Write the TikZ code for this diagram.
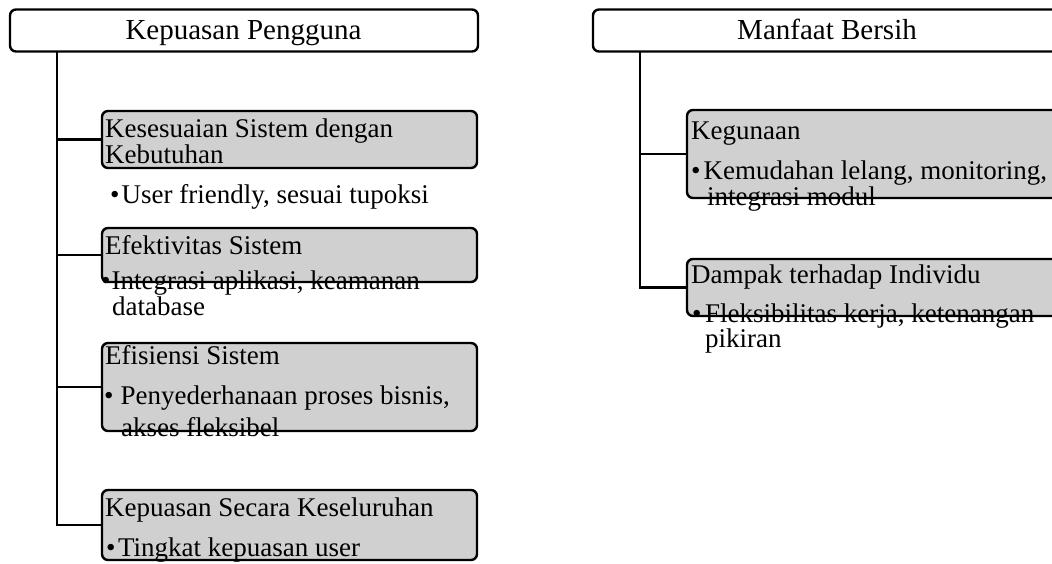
\documentclass[tikz,border=0pt]{standalone}
\usepackage{fontspec}
\setmainfont{Liberation Serif}
\definecolor{boxgray}{RGB}{208,208,208}
\begin{document}
\begin{tikzpicture}[x=1pt,y=-1pt,
  hdr/.style={draw, line width=2.4pt, rounded corners=6pt, fill=white,
    minimum width=468, minimum height=42, anchor=north west, inner sep=0, outer sep=0},
  item/.style={draw, line width=2.4pt, rounded corners=6pt, fill=boxgray,
    minimum width=375, anchor=north west, inner sep=0, outer sep=0},
  conn/.style={line width=2.4pt},
  htxt/.style={font=\fontsize{29}{31}\selectfont, anchor=base, inner sep=0},
  ttxt/.style={font=\fontsize{27}{29}\selectfont, anchor=base west, inner sep=0},
]
\useasboundingbox (0,0) rectangle (1052,563);
\clip (0,0) rectangle (1052,563);

% ---------- left tree: Kepuasan Pengguna ----------
\node[hdr] (hL) at (10,9.5) {};
\coordinate (trunkL) at (57,51);

\node[item, minimum height=57] (b1) at (102,111) {};
\node[item, minimum height=54] (b2) at (102,228) {};
\node[item, minimum height=88] (b3) at (102,343) {};
\node[item, minimum height=70] (b4) at (102,490) {};

\draw[conn] (trunkL) |- (b4.west);
\foreach \b in {b1,b2,b3}
  \draw[conn] (\b.west -| trunkL) -- (\b.west);

\node[htxt] (hLt) at (243.5,39) {Kepuasan Pengguna};

\node[ttxt] (b1a) at (105,137) {Kesesuaian Sistem dengan};
\node[ttxt] (b1b) at (105,163) {Kebutuhan};
\node[ttxt] (b1c) at (110,203) {\textbullet\hspace{2pt}User friendly, sesuai tupoksi};

\node[ttxt] (b2a) at (105,254) {Efektivitas Sistem};
\node[ttxt] (b2b) at (101,289) {\textbullet\hspace{1pt}Integrasi aplikasi, keamanan};
\node[ttxt] (b2c) at (112,315) {database};

\node[ttxt] (b3a) at (105,364) {Efisiensi Sistem};
\node[ttxt] (b3b) at (104,404) {\textbullet\hspace{7pt}Penyederhanaan proses bisnis,};
\node[ttxt] (b3c) at (121,436) {akses fleksibel};

\node[ttxt] (b4a) at (105,516) {Kepuasan Secara Keseluruhan};
\node[ttxt] (b4b) at (106,556) {\textbullet\hspace{2.5pt}Tingkat kepuasan user};

% ---------- right tree: Manfaat Bersih ----------
\node[hdr] (hR) at (593,9.5) {};
\coordinate (trunkR) at (640,51);

\node[item, minimum height=88] (r1) at (687,110) {};
\node[item, minimum height=57] (r2) at (687,259) {};

\draw[conn] (trunkR) |- (r2.west);
\draw[conn] (r1.west -| trunkR) -- (r1.west);

\node[htxt] (hRt) at (827,39) {Manfaat Bersih};

\node[ttxt] (r1a) at (691,139) {Kegunaan};
\node[ttxt] (r1b) at (691,179) {\textbullet\hspace{3pt}Kemudahan lelang, monitoring,};
\node[ttxt] (r1c) at (707,205) {integrasi modul};

\node[ttxt] (r2a) at (691,283) {Dampak terhadap Individu};
\node[ttxt] (r2b) at (692,322) {\textbullet\hspace{3.5pt}Fleksibilitas kerja, ketenangan};
\node[ttxt] (r2c) at (705,347) {pikiran};
\end{tikzpicture}
\end{document}
